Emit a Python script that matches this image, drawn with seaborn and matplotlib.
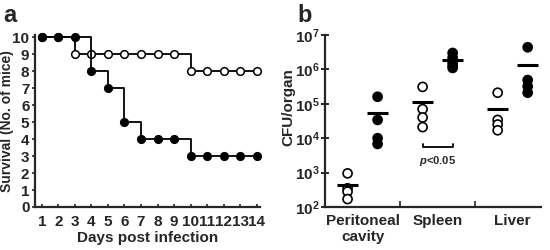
import numpy as np
import pandas as pd
import matplotlib
matplotlib.use('Agg')
import matplotlib.pyplot as plt
import seaborn as sns

# Panel a: survival (number of mice) per day
days = list(range(1, 15))
surv_open = [10, 10, 9, 9, 9, 9, 9, 9, 9, 8, 8, 8, 8, 8]
surv_filled = [10, 10, 10, 8, 7, 5, 4, 4, 4, 3, 3, 3, 3, 3]

# Panel b: CFU per organ, per mouse
organs = ['Peritoneal\ncavity', 'Spleen', 'Liver']
cfu_open = {
    'Peritoneal\ncavity': [950, 350, 280, 170],
    'Spleen': [3.1e5, 7e4, 4e4, 2.1e4],
    'Liver': [2.1e5, 3.4e4, 2.5e4, 1.7e4],
}
cfu_filled = {
    'Peritoneal\ncavity': [1.6e5, 3.4e4, 1.0e4, 6.8e3],
    'Spleen': [3.0e6, 2.2e6, 1.6e6, 1.3e6, 1.1e6],
    'Liver': [4.4e6, 4.9e5, 3.2e5, 2.1e5],
}

sns.set_style('ticks')
plt.rcParams['font.family'] = ['Liberation Sans', 'DejaVu Sans']
plt.rcParams['font.weight'] = 'bold'
plt.rcParams['axes.labelweight'] = 'bold'
plt.rcParams['mathtext.fontset'] = 'custom'
plt.rcParams['mathtext.rm'] = 'Liberation Sans:bold'
plt.rcParams['mathtext.bf'] = 'Liberation Sans:bold'
plt.rcParams['mathtext.it'] = 'Liberation Sans:bold:italic'

fig = plt.figure(figsize=(5.5, 2.5), dpi=100)

# ---- panel a ----
ax1 = fig.add_axes([0.0636, 0.172, 0.409, 0.69])
sns.lineplot(x=days, y=surv_open, ax=ax1, color='black', lw=1.3,
             drawstyle='steps-post', marker='o', markersize=5.5,
             markerfacecolor='white', markeredgecolor='black',
             markeredgewidth=1.1, clip_on=False, zorder=3)
sns.lineplot(x=days, y=surv_filled, ax=ax1, color='black', lw=1.3,
             drawstyle='steps-post', marker='o', markersize=5.5,
             markerfacecolor='black', markeredgecolor='black',
             markeredgewidth=1.1, clip_on=False, zorder=4)
ax1.set_xlim(0.58, 14.2)
ax1.set_ylim(0, 10.15)
ax1.set_xticks(days)
ax1.set_yticks(range(0, 11))
ax1.tick_params(axis='x', direction='in', length=2, width=1.2, pad=6, labelsize=11)
ax1.tick_params(axis='y', direction='out', length=2.5, width=1.2, pad=1.5, labelsize=11)
for s in ['top', 'right']:
    ax1.spines[s].set_visible(False)
for s in ['left', 'bottom']:
    ax1.spines[s].set_linewidth(1.6)
ax1.set_xlabel('Days post infection', fontsize=11, labelpad=1)
ax1.set_ylabel('Survival (No. of mice)', fontsize=10)
ax1.yaxis.set_label_coords(-0.093, 0.5)
fig.text(0.005, 0.985, 'a', fontsize=17, fontweight='bold', va='top')

# ---- panel b ----
rows = []
for org in organs:
    for v in cfu_open[org]:
        rows.append((org, 'open', v))
    for v in cfu_filled[org]:
        rows.append((org, 'filled', v))
df = pd.DataFrame(rows, columns=['organ', 'group', 'cfu'])

ax2 = fig.add_axes([0.591, 0.172, 0.393, 0.688])
ax2.set_yscale('log')
sns.stripplot(data=df, x='organ', y='cfu', hue='group', order=organs,
              hue_order=['open', 'filled'],
              palette={'open': 'white', 'filled': 'black'},
              dodge=True, jitter=False, size=6.5, edgecolor='black',
              linewidth=1.2, legend=False, ax=ax2, zorder=3, clip_on=False)

means = df.groupby(['organ', 'group'])['cfu'].mean()
for i, org in enumerate(organs):
    for off, grp in [(-0.2, 'open'), (0.2, 'filled')]:
        ax2.hlines(means[(org, grp)], i + off - 0.14, i + off + 0.14,
                   color='black', lw=2.2, zorder=4)

ax2.set_ylim(1e2, 1e7)
ax2.set_xlim(-0.5, 2.38)
ax2.set_yticks([10.0 ** k for k in range(2, 8)])
ax2.set_yticklabels([r'$\mathbf{10^{%d}}$' % k for k in range(2, 8)])
ax2.yaxis.set_minor_locator(matplotlib.ticker.LogLocator(base=10, subs=np.arange(2, 10)))
ax2.yaxis.set_minor_formatter(matplotlib.ticker.NullFormatter())
ax2.tick_params(axis='y', which='major', direction='inout', length=6, width=1.4, labelsize=11, pad=1)
ax2.tick_params(axis='y', which='minor', direction='in', length=2, width=0.8)
ax2.set_xticks([0, 1, 2])
ax2.set_xticklabels(organs)
ax2.set_xticks([0.5, 1.5], minor=True)
ax2.tick_params(axis='x', which='major', length=0, pad=5, labelsize=11)
ax2.tick_params(axis='x', which='minor', direction='in', length=4, width=1.2)
for s in ['top', 'right']:
    ax2.spines[s].set_visible(False)
for s in ['left', 'bottom']:
    ax2.spines[s].set_linewidth(1.6)
ax2.set_xlabel('')
ax2.set_ylabel('CFU/organ', fontsize=11)
ax2.yaxis.set_label_coords(-0.135, 0.58)

# significance bracket between spleen groups
ybr = 5.6e3
ax2.plot([0.8, 0.8, 1.2, 1.2], [ybr * 1.25, ybr, ybr, ybr * 1.25], color='black', lw=1.3)
ax2.text(1.0, ybr / 1.6, r'$\mathit{p}$<0.05', ha='center', va='top', fontsize=8)
fig.text(0.54, 0.985, 'b', fontsize=17, fontweight='bold', va='top')

fig.savefig('out.png', dpi=100)
